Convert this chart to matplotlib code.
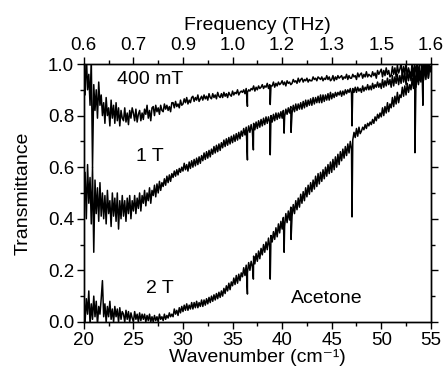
import numpy as np
import matplotlib
matplotlib.use('Agg')
import matplotlib.pyplot as plt
from matplotlib.ticker import MultipleLocator

plt.rcParams['font.family'] = ['Liberation Sans', 'DejaVu Sans']

# wavenumber grid (cm^-1), 0.125 step -> one row of 8 values per cm^-1 below
wn = np.arange(20, 55.0001, 0.125)

# transmittance
t_400mT = [
    0.98, 0.88, 1.04, 0.90, 0.96, 0.84, 1.02, 0.60,   # 20
    0.92, 0.82, 0.90, 0.79, 0.93, 0.84, 0.88, 0.80,   # 21
    0.85, 0.77, 0.87, 0.80, 0.83, 0.76, 0.86, 0.79,   # 22
    0.84, 0.77, 0.85, 0.78, 0.83, 0.76, 0.82, 0.79,   # 23
    0.78, 0.83, 0.775, 0.81, 0.765, 0.82, 0.79, 0.83,
    0.81, 0.78, 0.825, 0.775, 0.805, 0.82, 0.78, 0.81,  # 25
    0.785, 0.825, 0.805, 0.84, 0.79, 0.82, 0.78, 0.83,
    0.835, 0.80, 0.84, 0.815, 0.83, 0.805, 0.84, 0.82,
    0.815, 0.845, 0.825, 0.84, 0.82, 0.835, 0.815, 0.85,
    0.85, 0.83, 0.855, 0.835, 0.845, 0.83, 0.86, 0.84,
    0.845, 0.865, 0.85, 0.87, 0.845, 0.86, 0.85, 0.87,  # 30
    0.875, 0.855, 0.87, 0.86, 0.88, 0.855, 0.865, 0.875,
    0.86, 0.88, 0.865, 0.875, 0.86, 0.885, 0.87, 0.865,
    0.885, 0.87, 0.88, 0.865, 0.89, 0.875, 0.87, 0.885,
    0.87, 0.89, 0.875, 0.885, 0.87, 0.89, 0.88, 0.875,
    0.895, 0.88, 0.89, 0.885, 0.90, 0.88, 0.89, 0.895,  # 35
    0.89, 0.90, 0.885, 0.905, 0.89, 0.90, 0.895, 0.905,
    0.90, 0.915, 0.895, 0.91, 0.90, 0.915, 0.905, 0.91,
    0.92, 0.905, 0.915, 0.91, 0.925, 0.905, 0.92, 0.915,
    0.915, 0.93, 0.91, 0.925, 0.915, 0.93, 0.92, 0.925,
    0.935, 0.92, 0.93, 0.915, 0.935, 0.925, 0.93, 0.92,  # 40
    0.925, 0.94, 0.93, 0.935, 0.925, 0.945, 0.93, 0.94,
    0.945, 0.93, 0.94, 0.935, 0.945, 0.93, 0.94, 0.935,
    0.935, 0.95, 0.94, 0.945, 0.935, 0.95, 0.945, 0.94,
    0.95, 0.935, 0.945, 0.94, 0.955, 0.94, 0.95, 0.935,
    0.94, 0.955, 0.935, 0.95, 0.94, 0.955, 0.945, 0.95,  # 45
    0.955, 0.94, 0.95, 0.945, 0.96, 0.94, 0.955, 0.945,
    0.945, 0.96, 0.95, 0.955, 0.94, 0.965, 0.95, 0.96,
    0.965, 0.945, 0.96, 0.95, 0.97, 0.95, 0.96, 0.955,
    0.95, 0.97, 0.955, 0.965, 0.945, 0.975, 0.96, 0.97,
    0.98, 0.95, 0.975, 0.955, 0.985, 0.96, 0.975, 0.95,  # 50
    0.955, 0.99, 0.96, 0.985, 0.95, 0.995, 0.965, 0.98,
    1.0, 0.955, 0.99, 0.96, 1.005, 0.95, 0.985, 0.965,
    0.96, 1.01, 0.955, 0.995, 0.97, 1.01, 0.96, 1.0,
    1.01, 0.96, 1.005, 0.97, 1.01, 0.965, 1.0, 0.975,
    0.99,                                               # 55
]

t_1T = [
    0.42, 0.58, 0.40, 0.61, 0.46, 0.56, 0.38, 0.60,   # 20
    0.27, 0.55, 0.42, 0.52, 0.39, 0.54, 0.41, 0.50,
    0.40, 0.49, 0.38, 0.51, 0.42, 0.47, 0.37, 0.50,
    0.41, 0.48, 0.39, 0.50, 0.36, 0.47, 0.40, 0.49,
    0.41, 0.47, 0.39, 0.48, 0.42, 0.49, 0.40, 0.47,
    0.43, 0.49, 0.42, 0.48, 0.44, 0.50, 0.43, 0.49,   # 25
    0.46, 0.51, 0.45, 0.50, 0.47, 0.52, 0.46, 0.51,
    0.49, 0.53, 0.485, 0.535, 0.50, 0.545, 0.51, 0.54,
    0.525, 0.555, 0.53, 0.565, 0.54, 0.57, 0.545, 0.575,
    0.56, 0.585, 0.565, 0.59, 0.57, 0.595, 0.58, 0.60,
    0.585, 0.615, 0.59, 0.61, 0.585, 0.62, 0.595, 0.625,  # 30
    0.60, 0.63, 0.605, 0.635, 0.61, 0.64, 0.615, 0.645,
    0.625, 0.655, 0.63, 0.66, 0.635, 0.665, 0.64, 0.67,
    0.65, 0.68, 0.655, 0.685, 0.66, 0.69, 0.665, 0.695,
    0.675, 0.705, 0.68, 0.71, 0.685, 0.715, 0.69, 0.72,
    0.695, 0.725, 0.70, 0.73, 0.705, 0.735, 0.71, 0.74,  # 35
    0.72, 0.75, 0.725, 0.755, 0.73, 0.76, 0.735, 0.765,
    0.74, 0.77, 0.745, 0.775, 0.75, 0.78, 0.755, 0.785,
    0.76, 0.79, 0.765, 0.795, 0.77, 0.795, 0.775, 0.80,
    0.775, 0.805, 0.78, 0.81, 0.785, 0.81, 0.79, 0.815,
    0.79, 0.82, 0.795, 0.825, 0.805, 0.83, 0.81, 0.835,  # 40
    0.81, 0.84, 0.815, 0.845, 0.82, 0.845, 0.825, 0.85,
    0.825, 0.855, 0.83, 0.86, 0.835, 0.86, 0.84, 0.865,
    0.84, 0.87, 0.845, 0.87, 0.85, 0.875, 0.85, 0.88,
    0.85, 0.88, 0.855, 0.88, 0.86, 0.885, 0.86, 0.89,
    0.865, 0.885, 0.87, 0.89, 0.875, 0.89, 0.88, 0.895,  # 45
    0.875, 0.895, 0.88, 0.90, 0.885, 0.90, 0.89, 0.905,
    0.885, 0.905, 0.89, 0.91, 0.89, 0.91, 0.895, 0.905,
    0.89, 0.915, 0.895, 0.91, 0.90, 0.92, 0.90, 0.915,
    0.90, 0.925, 0.905, 0.92, 0.91, 0.93, 0.91, 0.925,
    0.905, 0.94, 0.91, 0.935, 0.915, 0.945, 0.92, 0.94,  # 50
    0.91, 0.955, 0.915, 0.95, 0.925, 0.96, 0.92, 0.955,
    0.925, 0.97, 0.93, 0.965, 0.92, 0.975, 0.935, 0.97,
    0.935, 0.985, 0.93, 0.98, 0.94, 0.99, 0.935, 0.985,
    0.945, 0.995, 0.94, 0.99, 0.95, 1.0, 0.945, 0.995,
    0.97,                                               # 55
]

t_2T = [
    0.11, 0.00, 0.09, 0.03, 0.12, -0.01, 0.07, 0.01,  # 20
    0.10, 0.02, 0.08, -0.01, 0.06, 0.03, 0.09, 0.16,
    0.02, 0.07, 0.00, 0.06, 0.02, 0.08, 0.01, 0.05,
    0.00, 0.06, 0.02, 0.05, 0.00, 0.055, 0.01, 0.04,
    0.03, 0.00, 0.045, 0.01, 0.04, 0.00, 0.035, 0.015,
    0.00, 0.04, 0.01, 0.03, 0.00, 0.035, 0.005, 0.03,  # 25
    0.01, 0.03, 0.00, 0.025, 0.005, 0.03, 0.00, 0.02,
    0.00, 0.025, 0.005, 0.02, 0.00, 0.03, 0.01, 0.02,
    0.005, 0.03, 0.01, 0.025, 0.015, 0.035, 0.02, 0.03,
    0.02, 0.05, 0.03, 0.045, 0.025, 0.055, 0.035, 0.06,
    0.04, 0.065, 0.045, 0.07, 0.045, 0.065, 0.05, 0.075,  # 30
    0.05, 0.075, 0.055, 0.08, 0.055, 0.075, 0.06, 0.085,
    0.06, 0.085, 0.065, 0.09, 0.07, 0.095, 0.075, 0.10,
    0.08, 0.105, 0.085, 0.11, 0.09, 0.115, 0.095, 0.12,
    0.10, 0.13, 0.11, 0.14, 0.12, 0.15, 0.125, 0.155,
    0.14, 0.17, 0.145, 0.18, 0.15, 0.185, 0.16, 0.19,  # 35
    0.175, 0.21, 0.18, 0.22, 0.19, 0.23, 0.20, 0.235,
    0.215, 0.255, 0.225, 0.265, 0.235, 0.275, 0.245, 0.285,
    0.26, 0.30, 0.27, 0.31, 0.28, 0.325, 0.29, 0.335,
    0.31, 0.35, 0.32, 0.365, 0.33, 0.38, 0.345, 0.39,
    0.36, 0.405, 0.37, 0.42, 0.385, 0.43, 0.395, 0.445,  # 40
    0.41, 0.455, 0.42, 0.47, 0.435, 0.48, 0.445, 0.495,
    0.46, 0.505, 0.47, 0.52, 0.485, 0.53, 0.495, 0.54,
    0.505, 0.55, 0.515, 0.565, 0.525, 0.575, 0.535, 0.58,
    0.545, 0.59, 0.555, 0.60, 0.565, 0.61, 0.575, 0.62,
    0.58, 0.63, 0.59, 0.64, 0.60, 0.65, 0.61, 0.66,  # 45
    0.625, 0.67, 0.635, 0.68, 0.645, 0.69, 0.655, 0.70,
    0.67, 0.705, 0.735, 0.715, 0.75, 0.72, 0.755, 0.73,
    0.74, 0.755, 0.745, 0.765, 0.75, 0.77, 0.76, 0.775,
    0.765, 0.785, 0.77, 0.795, 0.78, 0.805, 0.79, 0.81,
    0.795, 0.83, 0.80, 0.835, 0.81, 0.85, 0.815, 0.845,  # 50
    0.83, 0.87, 0.835, 0.875, 0.845, 0.89, 0.85, 0.88,
    0.87, 0.91, 0.875, 0.915, 0.88, 0.925, 0.89, 0.92,
    0.90, 0.945, 0.905, 0.95, 0.91, 0.96, 0.92, 0.955,
    0.93, 0.98, 0.935, 0.99, 0.94, 1.0, 0.945, 0.99,
    0.98,                                               # 55
]

# narrow absorption dips (position, depth per curve; nan = no dip)
dip_wn = [36.5, 37.1, 38.8, 40.2, 40.9, 47.05, 53.4, 54.2]
dip_400mT = [0.836, np.nan, 0.843, np.nan, np.nan, np.nan, np.nan, 0.84]
dip_1T = [0.628, 0.667, 0.648, 0.732, 0.735, 0.76, 0.656, np.nan]
dip_2T = [0.108, 0.166, 0.166, 0.27, 0.32, 0.407, np.nan, np.nan]

labels = ['400 mT', '1 T', '2 T']
label_pos = [(23.3, 0.938), (25.3, 0.64), (26.3, 0.13)]


def with_dips(vals, dips):
    x = np.concatenate([wn, dip_wn])
    y = np.concatenate([vals, dips])
    keep = ~np.isnan(y)
    x, y = x[keep], y[keep]
    order = np.argsort(x)
    return x[order], y[order]


fig = plt.figure(figsize=(4.46, 3.70), dpi=100)
ax = fig.add_axes([0.188, 0.130, 0.778, 0.697])

for vals, dips in [(t_400mT, dip_400mT), (t_1T, dip_1T), (t_2T, dip_2T)]:
    x, y = with_dips(vals, dips)
    ax.plot(x, y, color='black', lw=1.1)

for lab, (lx, ly) in zip(labels, label_pos):
    ax.text(lx, ly, lab, fontsize=14, va='center', ha='left')
ax.text(40.9, 0.09, 'Acetone', fontsize=14, va='center', ha='left')

ax.set_xlim(20, 55)
ax.set_ylim(0, 1.0)
ax.xaxis.set_major_locator(MultipleLocator(5))
ax.xaxis.set_minor_locator(MultipleLocator(2.5))
ax.yaxis.set_major_locator(MultipleLocator(0.2))
ax.yaxis.set_minor_locator(MultipleLocator(0.1))
ax.yaxis.set_major_formatter(plt.FormatStrFormatter('%.1f'))
ax.tick_params(which='both', direction='out', labelsize=13.5, width=1,
               right=True, top=False, pad=2)
ax.tick_params(which='major', length=5)
ax.tick_params(which='minor', length=3)
ax.set_xlabel('Wavenumber (cm\u207b\u00b9)', fontsize=14, labelpad=0)
ax.set_ylabel('Transmittance', fontsize=14, labelpad=12)

# top axis: same ticks, labelled in THz
top = ax.twiny()
top.set_xlim(ax.get_xlim())
ticks = np.arange(20, 55.1, 5)
top.set_xticks(ticks)
top.set_xticklabels(['%.1f' % (t / 33.356) for t in ticks])
top.xaxis.set_minor_locator(MultipleLocator(2.5))
top.tick_params(which='both', direction='out', labelsize=13.5, width=1, pad=2)
top.tick_params(which='major', length=5)
top.tick_params(which='minor', length=3)
top.set_xlabel('Frequency (THz)', fontsize=14, labelpad=5)

for a in (ax, top):
    for s in a.spines.values():
        s.set_linewidth(1)

fig.savefig('out.png', dpi=100)
